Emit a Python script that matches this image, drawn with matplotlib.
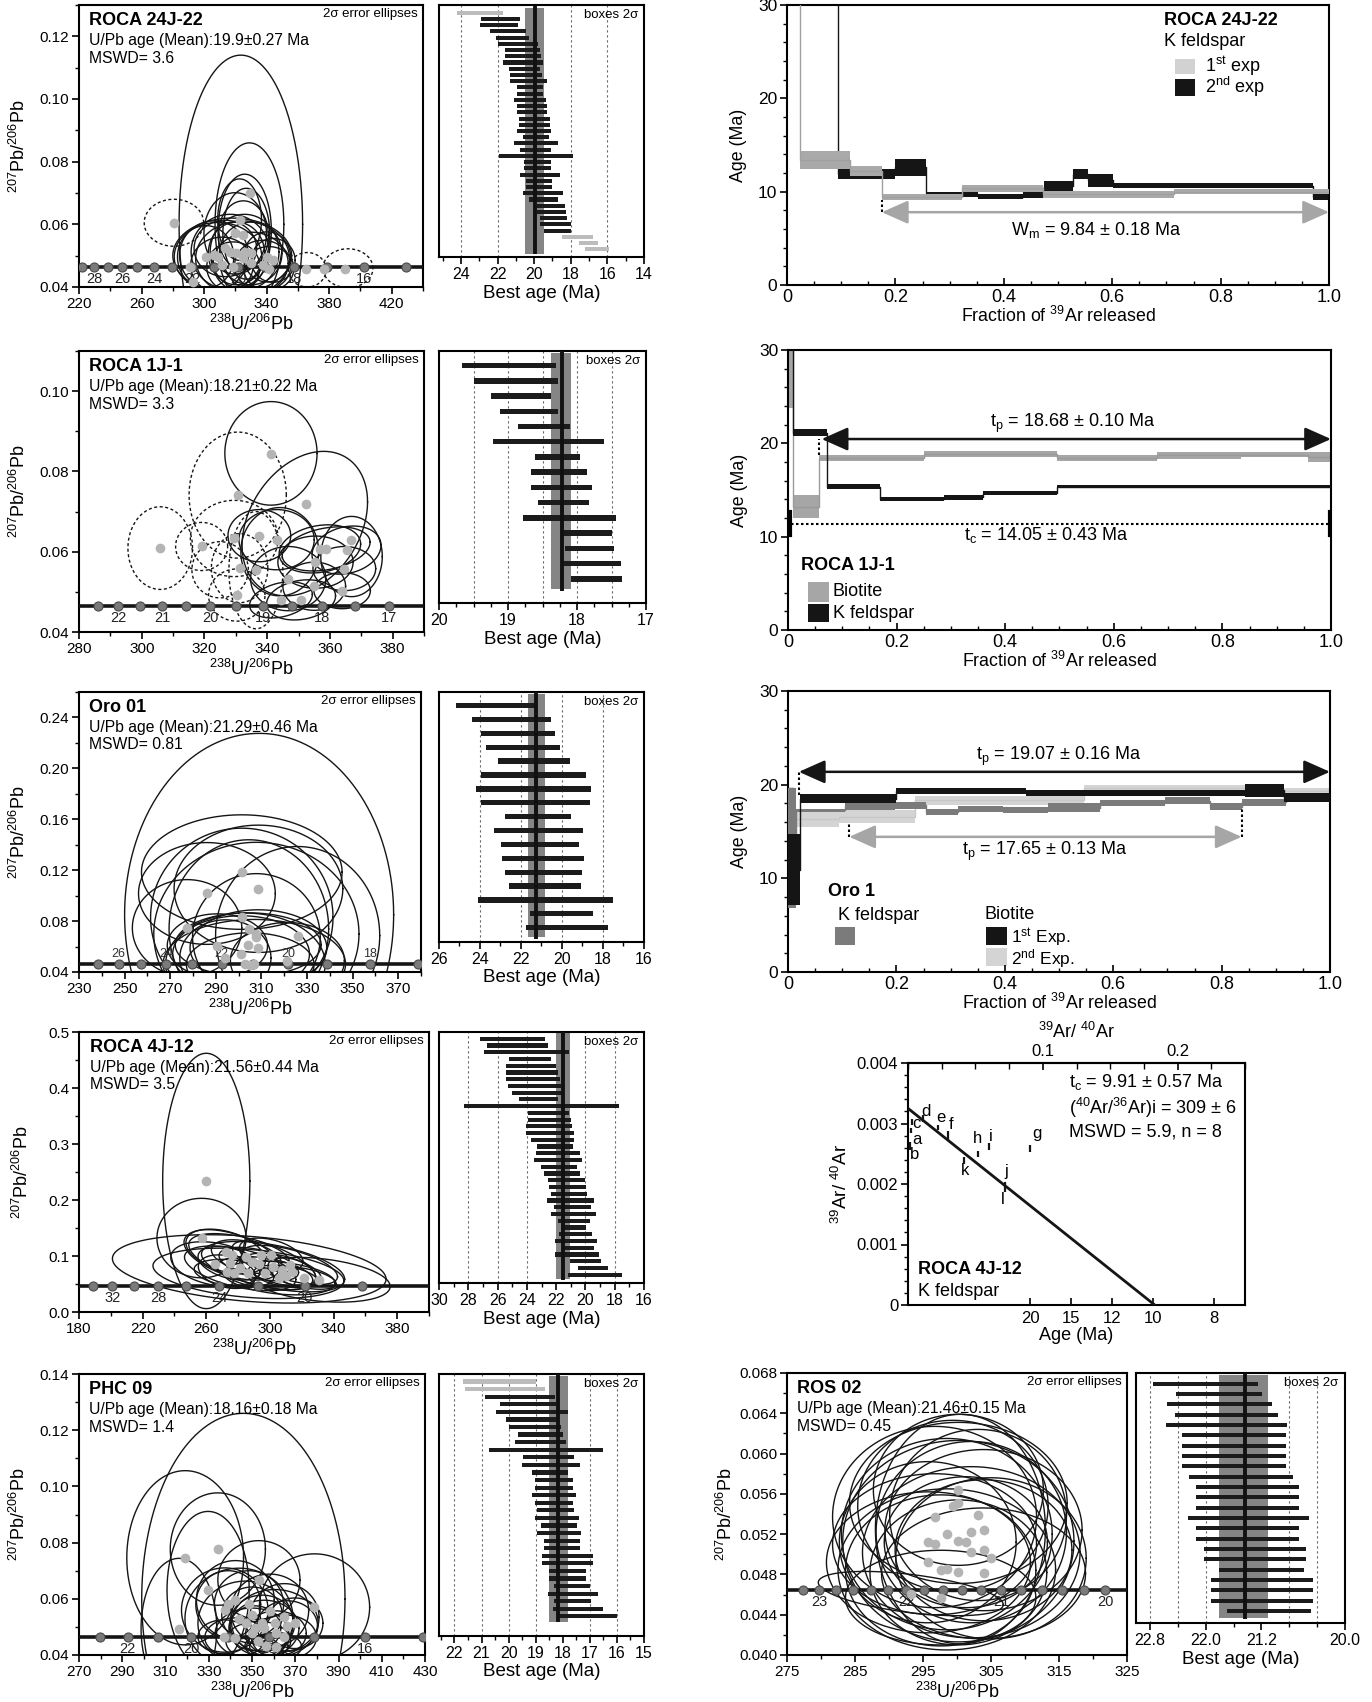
import numpy as np
import matplotlib
matplotlib.use("Agg")
import matplotlib.pyplot as plt
from matplotlib.patches import Rectangle
from matplotlib.ticker import MultipleLocator, FixedLocator, FuncFormatter

plt.rcParams['font.family'] = ['Liberation Sans', 'DejaVu Sans']
plt.rcParams['mathtext.default'] = 'regular'
plt.rcParams['axes.linewidth'] = 1.5

# ====================== DATA ======================
# ---- concordia panels: ellipses (cx, cy, half-width, half-height, rho, dashed) ----
r24_ell = [(323.5, 0.060, 39.5, 0.054, 0, 0), (329, 0.060, 22, 0.026, 0, 0), (326, 0.058, 17, 0.018, 0, 0),
           (327, 0.057, 15, 0.0145, 0, 0), (280.7, 0.0605, 19, 0.0075, 0, 1), (366, 0.0455, 12, 0.0055, 0, 1),
           (392, 0.046, 16, 0.0062, 0, 1), (322.7, 0.0615, 14, 0.013, 0, 0), (319.9, 0.0571, 20, 0.013, 0, 0),
           (325.1, 0.0565, 16, 0.011, 0, 0), (301, 0.0496, 18, 0.010, 0, 0), (306.3, 0.0501, 22, 0.011, 0, 0),
           (313.6, 0.0523, 20, 0.009, 0, 0), (316.7, 0.0512, 25, 0.012, 0, 0), (320.7, 0.0507, 18, 0.010, 0, 0),
           (325.9, 0.0512, 22, 0.012, 0, 0), (329.8, 0.0507, 20, 0.010, 0, 0), (340.3, 0.0496, 15, 0.008, 0, 0),
           (344.2, 0.0485, 14, 0.007, 0, 0), (311.4, 0.0469, 20, 0.009, 0, 0), (318.7, 0.0464, 17, 0.008, 0, 0),
           (329.8, 0.0475, 24, 0.010, 0, 0), (337.5, 0.0469, 18, 0.008, 0, 0), (308.9, 0.0496, 28, 0.011, 0, 0),
           (324.6, 0.0491, 30, 0.012, 0, 0), (318, 0.050, 38, 0.012, 0, 0), (341.4, 0.0459, 16, 0.007, 0, 0)]
r24_dot_x = [280.7, 329.3, 322.7, 319.9, 325.1, 301, 306.3, 313.6, 316.7, 320.7, 325.9, 329.8, 340.3, 344.2,
             311.4, 318.7, 329.8, 337.5, 291, 293.1, 341.4, 365, 376.9, 389.9, 308.9, 324.6]
r24_dot_y = [0.0605, 0.0699, 0.0615, 0.0571, 0.0565, 0.0496, 0.0501, 0.0523, 0.0512, 0.0507, 0.0512, 0.0507,
             0.0496, 0.0485, 0.0469, 0.0464, 0.0475, 0.0469, 0.0464, 0.0416, 0.0459, 0.0459, 0.0459, 0.0459,
             0.0496, 0.0491]
r24_conc_ages = [29, 28, 27, 26, 25, 24, 23, 22, 21, 20, 19, 18, 17, 16, 15]
r24_conc_labels = [28, 26, 24, 22, 20, 18, 16]

r1j_ell = [(341.2, 0.0845, 14.7, 0.0129, 0, 0), (352, 0.067, 20, 0.018, 0.3, 0), (344, 0.060, 12.4, 0.011, 0, 0),
           (366.9, 0.0588, 9.8, 0.010, 0, 0), (356.8, 0.0607, 13, 0.006, 0.2, 0), (358.8, 0.0607, 14, 0.0055, 0.3, 0),
           (365.3, 0.0604, 11, 0.006, 0.2, 0), (355.4, 0.0574, 12, 0.0065, 0, 0), (364.6, 0.0558, 10, 0.0055, 0, 0),
           (346.7, 0.0533, 12, 0.008, 0, 0), (355.0, 0.0514, 10, 0.006, 0, 0), (363.9, 0.0503, 9, 0.0045, 0, 0),
           (344.4, 0.0480, 10, 0.0045, 0.3, 0), (350.8, 0.0480, 11, 0.005, 0.2, 0), (337.5, 0.0640, 10, 0.0065, 0, 0),
           (343, 0.063, 12, 0.0075, 0, 0),
           (305.9, 0.0609, 10.3, 0.0103, 0, 1), (319.1, 0.0613, 8.3, 0.006, 0, 1), (330.6, 0.0741, 15.5, 0.0157, 0, 1),
           (329.5, 0.0633, 14, 0.0095, 0, 1), (331.2, 0.0559, 9, 0.0086, 0, 1), (330.3, 0.0492, 9, 0.0065, 0, 1),
           (336.4, 0.0554, 8.6, 0.0146, 0, 1), (325, 0.0555, 9, 0.007, 0, 1)]
r1j_dot_x = [341.2, 330.6, 352.4, 305.9, 319.1, 329.5, 337.5, 343.0, 366.7, 356.8, 358.8, 365.3, 331.2, 336.4,
             355.4, 364.6, 346.7, 355.0, 363.9, 330.3, 344.4, 350.8]
r1j_dot_y = [0.0843, 0.0741, 0.0720, 0.0609, 0.0613, 0.0633, 0.0640, 0.0630, 0.0630, 0.0607, 0.0607, 0.0604,
             0.0559, 0.0554, 0.0574, 0.0558, 0.0533, 0.0514, 0.0503, 0.0492, 0.0480, 0.0480]
r1j_conc_ages = [22.5, 22, 21.5, 21, 20.5, 20, 19.5, 19, 18.5, 18, 17.5, 17]
r1j_conc_labels = [22, 21, 20, 19, 18, 17]

oro_ell = [(309, 0.085, 59, 0.1425, 0, 0), (301.4, 0.1185, 44, 0.045, 0, 0), (308.7, 0.1054, 37, 0.05, 0, 0),
           (286.1, 0.1017, 30, 0.04, 0, 0), (277.4, 0.0746, 24, 0.038, 0, 0), (301.4, 0.083, 40, 0.07, 0, 0),
           (304.5, 0.0739, 35, 0.07, 0, 0), (307.8, 0.0699, 45, 0.072, 0, 0), (307.8, 0.0673, 28, 0.05, 0, 0),
           (325.9, 0.0686, 36, 0.07, 0, 0), (308.7, 0.0589, 30, 0.03, 0, 0), (304.2, 0.0615, 32, 0.025, 0, 0),
           (290.7, 0.0607, 22, 0.025, 0, 0), (301.1, 0.0542, 30, 0.03, 0, 0), (294.2, 0.051, 20, 0.03, 0, 0),
           (321.4, 0.0489, 25, 0.03, 0, 0), (303, 0.0463, 35, 0.04, 0, 0), (305.1, 0.0458, 28, 0.025, 0, 0),
           (306.9, 0.0463, 40, 0.035, 0, 0)]
oro_dot_x = [301.4, 308.7, 286.1, 277.4, 301.4, 304.5, 307.8, 307.8, 325.9, 308.7, 304.2, 290.7, 301.1, 294.2,
             321.4, 303, 305.1, 306.9]
oro_dot_y = [0.1185, 0.1054, 0.1017, 0.0746, 0.083, 0.0739, 0.0699, 0.0673, 0.0686, 0.0589, 0.0615, 0.0607,
             0.0542, 0.051, 0.0489, 0.0463, 0.0458, 0.0463]
oro_conc_ages = [27, 26, 25, 24, 23, 22, 21, 20, 19, 18, 17]
oro_conc_labels = [26, 24, 22, 20, 18]

r4j_ell = [(260, 0.234, 27.4, 0.228, 0, 0), (287, 0.077, 86, 0.061, -0.3, 0), (257, 0.132, 28, 0.071, 0, 0),
           (272.2, 0.108, 25, 0.04, -0.4, 0), (276, 0.102, 30, 0.045, -0.5, 0), (274.8, 0.087, 20, 0.03, -0.4, 0),
           (273, 0.072, 18, 0.03, -0.3, 0), (281.3, 0.078, 35, 0.04, -0.5, 0), (285.2, 0.099, 22, 0.03, -0.4, 0),
           (289, 0.090, 40, 0.05, -0.6, 0), (293, 0.0855, 25, 0.03, -0.5, 0), (296.9, 0.069, 30, 0.03, -0.4, 0),
           (300.8, 0.102, 20, 0.03, -0.4, 0), (302, 0.081, 45, 0.045, -0.5, 0), (307.3, 0.075, 25, 0.03, -0.5, 0),
           (312.5, 0.084, 30, 0.035, -0.6, 0), (309.9, 0.0635, 20, 0.02, -0.4, 0), (313.8, 0.072, 15, 0.025, -0.4, 0),
           (321.6, 0.0606, 20, 0.02, -0.5, 0), (330.6, 0.0576, 45, 0.04, -0.3, 0), (265.7, 0.0855, 28, 0.04, -0.3, 0),
           (277.4, 0.069, 25, 0.025, -0.3, 0), (286.5, 0.069, 60, 0.045, -0.3, 0), (294.3, 0.102, 18, 0.025, -0.5, 0),
           (306, 0.0606, 35, 0.03, -0.3, 0)]
r4j_dot_x = [260, 257, 272.2, 276, 274.8, 273, 281.3, 285.2, 289, 293, 296.9, 300.8, 302, 307.3, 312.5, 309.9,
             313.8, 321.6, 330.6, 265.7, 277.4, 286.5, 294.3, 306]
r4j_dot_y = [0.234, 0.132, 0.108, 0.102, 0.087, 0.072, 0.078, 0.099, 0.090, 0.0855, 0.069, 0.102, 0.081, 0.075,
             0.084, 0.0635, 0.072, 0.0606, 0.0576, 0.0855, 0.069, 0.069, 0.102, 0.0606]
r4j_conc_ages = [34, 32, 30, 28, 26, 24, 22, 20, 18]
r4j_conc_labels = [32, 28, 24, 20]

phc_ell = [(346, 0.060, 47, 0.066, 0, 0), (319.1, 0.0746, 27, 0.031, 0, 0), (334.2, 0.0777, 22, 0.020, 0, 0),
           (329.7, 0.0631, 19, 0.028, 0, 0), (353.2, 0.0667, 19, 0.014, 0, 0), (378.9, 0.057, 25.5, 0.019, 0, 0),
           (316.2, 0.0494, 17.5, 0.025, 0, 0), (339, 0.058, 15, 0.012, 0, 0), (342.3, 0.0596, 18, 0.014, 0, 0),
           (348.6, 0.058, 16, 0.012, 0, 0), (337.4, 0.056, 20, 0.015, 0, 0), (350, 0.0542, 14, 0.01, 0, 0),
           (358.2, 0.0558, 18, 0.013, 0, 0), (365, 0.0534, 16, 0.012, 0, 0), (354.8, 0.0513, 15, 0.01, 0, 0),
           (360.6, 0.0513, 20, 0.012, 0, 0), (366.3, 0.0503, 14, 0.009, 0, 0), (369.8, 0.0513, 13, 0.009, 0, 0),
           (351.3, 0.0495, 12, 0.008, 0, 0), (355.7, 0.0495, 16, 0.01, 0, 0), (361.1, 0.0477, 14, 0.008, 0, 0),
           (350, 0.0477, 17, 0.009, 0, 0), (337, 0.0465, 12, 0.006, 0, 0), (342.2, 0.0462, 14, 0.007, 0, 0),
           (352.9, 0.045, 15, 0.007, 0, 0), (356.7, 0.0432, 10, 0.004, 0, 0), (360.9, 0.043, 12, 0.005, 0, 0),
           (364.8, 0.0463, 15, 0.008, 0, 0), (347, 0.0513, 22, 0.015, 0, 0), (344, 0.0529, 25, 0.018, 0, 0)]
phc_dot_x = [319.1, 334.2, 353.2, 329.7, 339, 342.3, 348.6, 337.4, 378.9, 316.2, 350, 358.2, 365, 354.8, 360.6,
             366.3, 369.8, 351.3, 355.7, 361.1, 350, 337, 342.2, 352.9, 356.7, 360.9, 364.8, 347, 344]
phc_dot_y = [0.0746, 0.0777, 0.0667, 0.0631, 0.058, 0.0596, 0.058, 0.056, 0.057, 0.0494, 0.0542, 0.0558, 0.0534,
             0.0513, 0.0513, 0.0503, 0.0513, 0.0495, 0.0495, 0.0477, 0.0477, 0.0465, 0.0462, 0.045, 0.0432, 0.043,
             0.0463, 0.0513, 0.0529]
phc_conc_ages = [23, 22, 21, 20, 19, 18, 17, 16, 15]
phc_conc_labels = [22, 20, 18, 16]

ros_ell = [(300.2, 0.0564, 12.5, 0.0075, 0, 0), (299.4, 0.0548, 14, 0.0085, 0, 0), (300.2, 0.0551, 16, 0.0080, 0, 0),
           (296.7, 0.0537, 15, 0.0090, 0, 0), (303.1, 0.0539, 13, 0.0085, 0, 0), (298.5, 0.0520, 15.5, 0.0095, 0, 0),
           (302.1, 0.0522, 14, 0.0090, 0, 0), (303.9, 0.0524, 14.5, 0.0080, 0, 0), (295.7, 0.0512, 13, 0.0080, 0, 0),
           (296.7, 0.0510, 15, 0.0070, 0, 0), (300.2, 0.0513, 17, 0.0100, 0, 0), (301.3, 0.0512, 12, 0.0065, 0, 0),
           (302.1, 0.0502, 16, 0.0085, 0, 0), (303.9, 0.0504, 13, 0.0070, 0, 0), (305.0, 0.0496, 14, 0.0080, 0, 0),
           (295.8, 0.0492, 15, 0.0070, 0, 0), (297.6, 0.0484, 14, 0.0075, 0, 0), (298.5, 0.0485, 16, 0.0080, 0, 0),
           (300.2, 0.0482, 13, 0.0072, 0, 0), (303.9, 0.0481, 15, 0.0065, 0, 0), (293.2, 0.0461, 13.6, 0.0022, -0.5, 0),
           (297.6, 0.0457, 14, 0.0047, 0, 0), (300.5, 0.0525, 12.5, 0.0114, 0, 0)]
ros_dot_x = [300.2, 299.4, 300.2, 296.7, 303.1, 298.5, 302.1, 303.9, 295.7, 296.7, 300.2, 301.3, 302.1, 303.9,
             305.0, 295.8, 297.6, 298.5, 300.2, 303.9, 293.2, 297.6]
ros_dot_y = [0.0564, 0.0548, 0.0551, 0.0537, 0.0539, 0.0520, 0.0522, 0.0524, 0.0512, 0.0510, 0.0513, 0.0512,
             0.0502, 0.0504, 0.0496, 0.0492, 0.0484, 0.0485, 0.0482, 0.0481, 0.0461, 0.0457]
ros_conc_ages = [23.2, 23.0, 22.8, 22.6, 22.4, 22.2, 22.0, 21.8, 21.6, 21.4, 21.2, 21.0, 20.8, 20.6, 20.4, 20.2, 20.0]
ros_conc_labels = [23, 22, 21, 20]

# ---- best-age box panels (older end, younger end, colour k=black g=grey) ----
r24_old = [24.2, 22.9, 22.97, 22.4, 22.1, 22.0, 21.6, 21.6, 21.73, 21.35, 21.3, 21.3, 20.94, 20.94, 21.1, 20.94,
           20.94, 20.85, 20.85, 20.94, 20.6, 21.1, 20.8, 21.9, 20.56, 20.56, 20.8, 20.45, 20.45, 20.6, 20.3, 19.84,
           19.84, 19.66, 19.66, 19.48, 18.47, 17.57, 17.2]
r24_young = [21.7, 20.8, 20.9, 20.45, 20.27, 19.8, 19.66, 19.6, 19.5, 19.66, 19.55, 19.3, 19.5, 19.5, 19.37, 19.28,
             19.3, 19.15, 19.15, 19.06, 19.2, 18.7, 19.1, 17.9, 19.1, 19.1, 18.6, 19.0, 19.0, 18.4, 18.7, 18.3,
             18.25, 18.2, 17.98, 18.0, 16.8, 16.5, 15.9]
r24_col = ['g'] + ['k'] * 35 + ['g'] * 3

r1j_old = [19.66, 19.49, 19.25, 19.11, 18.86, 19.22, 18.61, 18.67, 18.67, 18.57, 18.78, 18.21, 18.17, 18.2, 18.09]
r1j_young = [18.31, 18.28, 18.38, 18.28, 18.10, 17.61, 17.96, 17.86, 17.78, 17.83, 17.43, 17.49, 17.47, 17.36, 17.35]
r1j_col = ['k'] * 15

oro_old = [25.15, 24.38, 23.94, 23.7, 23.13, 23.94, 24.18, 23.94, 22.79, 23.3, 22.97, 22.93, 22.77, 22.6, 24.08,
           21.56, 21.76]
oro_young = [21.25, 20.55, 20.34, 20.1, 19.6, 18.83, 18.59, 18.63, 19.54, 18.99, 19.19, 18.93, 19.01, 19.05, 17.52,
             18.48, 17.78]
oro_col = ['k'] * 17

r4j_old = [27.2, 26.73, 26.9, 25.23, 25.4, 25.4, 25.45, 25.3, 25.03, 24.52, 28.3, 23.9, 23.9, 24.03, 24.03, 23.75,
           23.32, 23.4, 23.52, 23.04, 22.84, 22.53, 22.47, 22.33, 22.61, 22.13, 22.33, 21.9, 21.68, 21.82, 22.1,
           21.48, 22.05, 21.05, 20.48, 21.19]
r4j_young = [22.76, 22.56, 21.14, 22.33, 21.99, 21.9, 21.76, 21.7, 21.62, 21.9, 17.7, 21.1, 20.97, 20.9, 20.77,
             20.77, 20.85, 20.4, 20.26, 20.57, 20.34, 20.06, 19.97, 19.91, 19.4, 19.63, 19.29, 19.72, 19.97, 19.57,
             19.2, 19.4, 19.06, 18.92, 18.49, 17.5]
r4j_col = ['k'] * 36

phc_old = [21.68, 21.6, 20.88, 20.3, 20.47, 20.09, 19.99, 19.66, 19.78, 20.73, 19.47, 19.5, 19.12, 19.01, 19.01,
           19.15, 19.01, 18.94, 19.04, 18.81, 18.94, 18.71, 18.71, 18.78, 18.78, 18.51, 18.51, 18.31, 18.55, 18.31,
           18.36, 18.13]
phc_young = [18.97, 18.66, 18.28, 18.25, 17.79, 18.2, 18.05, 18.0, 17.87, 16.52, 17.59, 17.36, 17.79, 17.64, 17.64,
             17.51, 17.64, 17.59, 17.41, 17.47, 17.31, 17.36, 17.36, 16.9, 16.9, 17.16, 17.16, 16.98, 16.7, 16.95,
             16.52, 15.98]
phc_col = ['g', 'g'] + ['k'] * 30

ros_old = [22.75, 22.42, 22.55, 22.44, 22.57, 22.34, 22.34, 22.34, 22.34, 22.24, 22.14, 22.14, 22.14, 22.26, 22.14,
           22.14, 22.03, 22.03, 21.81, 21.93, 21.93, 21.93, 21.7]
ros_young = [21.25, 21.19, 21.05, 20.96, 20.83, 20.85, 20.85, 20.85, 20.85, 20.75, 20.66, 20.66, 20.66, 20.52, 20.66,
             20.66, 20.56, 20.56, 20.59, 20.46, 20.46, 20.46, 20.49]
ros_col = ['k'] * 23

# ---- Ar/Ar spectra: cumulative 39Ar fraction bounds, step ages, 1-side errors ----
a1_exp1_f = [0, 0.0238, 0.116, 0.175, 0.322, 0.472, 0.714, 1.0]
a1_exp1_age = [45, 13.4, 12.2, 9.4, 10.35, 9.7, 10.0]
a1_exp1_err = [2, 0.95, 0.5, 0.33, 0.36, 0.33, 0.27]
a1_exp2_f = [0, 0.094, 0.2, 0.257, 0.318, 0.353, 0.436, 0.474, 0.528, 0.555, 0.601, 0.97, 1.0]
a1_exp2_age = [45, 11.9, 12.6, 9.86, 9.72, 9.45, 9.67, 10.58, 11.9, 11.2, 10.66, 9.4]
a1_exp2_err = [2, 0.55, 0.9, 0.15, 0.25, 0.27, 0.3, 0.58, 0.58, 0.7, 0.22, 0.33]

a2_bio_f = [0, 0.009, 0.058, 0.25, 0.495, 0.68, 0.835, 0.958, 1.0]
a2_bio_age = [30, 13.2, 18.4, 18.87, 18.4, 18.7, 18.8, 18.57]
a2_bio_err = [6.2, 1.25, 0.3, 0.3, 0.3, 0.33, 0.3, 0.53]
a2_kf_f = [0, 0.009, 0.071, 0.169, 0.288, 0.36, 0.495, 1.0]
a2_kf_age = [45, 21.15, 15.35, 14.05, 14.2, 14.68, 15.36]
a2_kf_err = [2, 0.37, 0.25, 0.23, 0.27, 0.22, 0.18]

a3_kf_f = [0, 0.015, 0.105, 0.197, 0.254, 0.314, 0.396, 0.48, 0.576, 0.695, 0.779, 0.837, 0.919]
a3_kf_age = [13.2, 17.25, 17.67, 17.8, 17.13, 17.42, 17.3, 17.55, 18.05, 18.3, 17.65, 18.1]
a3_kf_err = [6.4, 0.15, 0.33, 0.35, 0.32, 0.32, 0.32, 0.45, 0.3, 0.4, 0.35, 0.4]
a3_b1_f = [0, 0.022, 0.2, 0.44, 0.844, 0.916, 1.0]
a3_b1_age = [10.94, 18.5, 19.3, 19.1, 19.4, 18.58]
a3_b1_err = [3.74, 0.5, 0.3, 0.3, 0.7, 0.48]
a3_b2_f = [0, 0.0105, 0.095, 0.234, 0.546, 0.844, 1.0]
a3_b2_age = [13.3, 16.3, 16.6, 18.35, 19.62, 19.36]
a3_b2_err = [6.5, 0.8, 0.65, 0.48, 0.33, 0.3]

# ---- inverse isochron (ROCA 4J-12) ----
iso_x = [0.0022, 0.0012, 0.0031, 0.0108, 0.0223, 0.0294, 0.0522, 0.0602, 0.0902, 0.0417, 0.0723]
iso_ylo = [0.00284, 0.00257, 0.00297, 0.00303, 0.00289, 0.00272, 0.00244, 0.00257, 0.00253, 0.00233, 0.00186]
iso_yhi = [0.00292, 0.00269, 0.00308, 0.00314, 0.00298, 0.00287, 0.00254, 0.00268, 0.00265, 0.00244, 0.00203]
iso_lab = ['a', 'b', 'c', 'd', 'e', 'f', 'h', 'i', 'g', 'k', 'j', 'l']
iso_lab_x = [0.0064, 0.0048, 0.0064, 0.0136, 0.0244, 0.0321, 0.0516, 0.0615, 0.0958, 0.0423, 0.0726, 0.0705]
iso_lab_y = [0.00274, 0.00249, 0.003, 0.0032, 0.0031, 0.00298, 0.00276, 0.00279, 0.00283, 0.00222, 0.0022, 0.00175]
iso_y0 = 0.00325
iso_tc = 9.91
iso_k = 1.814
iso_age_ticks = [20, 15, 12, 10, 8]
iso_ratio_ticks = [0.1, 0.2]

# ====================== FIGURE ======================
W, H = 1372, 1702
fig = plt.figure(figsize=(W / 100, H / 100), dpi=100)


def add_ax(l, t, r, b):
    return fig.add_axes([l / W, 1 - b / H, (r - l) / W, (b - t) / H])


def conc_x(age):
    return 1.0 / (np.exp(1.55125e-4 * np.asarray(age, dtype=float)) - 1.0)


T = np.linspace(0, 2 * np.pi, 300)


def concordia_panel(ax, ell, dx, dy, conc_y, ages, labels, xlim, ylim, xmaj, xmin, ymaj, ymin, yfmt,
                    title, mean, mswd, lab_above=False, lab_fs=10.5, ylab_x=-0.145):
    for (cx, cy, hx, hy, r, d) in ell:
        xs = cx + hx * np.cos(T)
        ys = cy + hy * (r * np.cos(T) + np.sqrt(1 - r * r) * np.sin(T))
        ax.plot(xs, ys, color='#151515', lw=1.0, ls=(0, (2.2, 1.8)) if d else '-', zorder=2)
    ax.axhline(conc_y, color='#151515', lw=2.6, zorder=3)
    cxs = conc_x(ages)
    ax.plot(cxs, np.full(len(cxs), conc_y), 'o', ms=6.5, mfc='#7a7a7a', mec='#4a4a4a', mew=0.8, zorder=4)
    yr = ylim[1] - ylim[0]
    for a in labels:
        if lab_above:
            ax.text(conc_x(a), conc_y + 0.012 * yr, str(a), ha='center', va='bottom', fontsize=lab_fs,
                    color='#333333', zorder=4)
        else:
            ax.text(conc_x(a), conc_y - 0.018 * yr, str(a), ha='center', va='top', fontsize=lab_fs,
                    color='#222222', zorder=4)
    ax.plot(dx, dy, 'o', ms=7, color='#b4b4b4', mec='none', zorder=5)
    ax.set_xlim(xlim)
    ax.set_ylim(ylim)
    ax.xaxis.set_major_locator(FixedLocator(np.arange(xlim[0], xlim[1] + 1e-9, xmaj)))
    ax.xaxis.set_minor_locator(FixedLocator(np.arange(xlim[0], xlim[1] + 1e-9, xmin)))
    ax.yaxis.set_major_locator(MultipleLocator(ymaj))
    ax.yaxis.set_minor_locator(MultipleLocator(ymin))
    ax.yaxis.set_major_formatter(FuncFormatter(lambda v, p: yfmt % v))
    ax.xaxis.set_major_formatter(FuncFormatter(lambda v, p: '%d' % round(v)))
    ax.tick_params(which='major', direction='out', length=5, width=1.2, labelsize=11, pad=2)
    ax.tick_params(which='minor', direction='out', length=3, width=1.0)
    ax.text(0.03, 0.975, title, transform=ax.transAxes, fontsize=13, fontweight='bold', va='top')
    ax.text(0.03, 0.9, 'U/Pb age (Mean):' + mean, transform=ax.transAxes, fontsize=11.3, va='top')
    ax.text(0.03, 0.838, 'MSWD= ' + mswd, transform=ax.transAxes, fontsize=11.3, va='top')
    ax.text(0.985, 0.99, '2σ error ellipses', transform=ax.transAxes, fontsize=9.5, va='top', ha='right')
    ax.set_xlabel('$^{238}$U/$^{206}$Pb', fontsize=13, labelpad=2)
    ax.set_ylabel('$^{207}$Pb/$^{206}$Pb', fontsize=13)
    ax.yaxis.set_label_coords(ylab_x, 0.5)


def box_panel(ax, old, young, cols, band, mean, grid, xlim, majors, minor, bar_h, top_m, bot_m, fmt):
    n = len(old)
    rows = np.arange(n)
    cmap = {'k': '#1b1b1b', 'g': '#bcbcbc'}
    ax.barh(rows, np.array(old) - np.array(young), left=young, height=bar_h,
            color=[cmap[c] for c in cols], zorder=3)
    ax.fill_betweenx([-0.8, n - 0.3], band[0], band[1], color='#858585', lw=0, zorder=2)
    ax.plot([mean, mean], [-1.1, n - 0.2], color='#111111', lw=2.8, zorder=4, solid_capstyle='butt')
    for g in grid:
        ax.axvline(g, color='#666666', lw=0.8, ls=(0, (2, 2.5)), zorder=1)
    ax.set_xlim(xlim)
    ax.set_ylim(n - 1 + bot_m, -top_m)
    ax.set_yticks([])
    ax.xaxis.set_major_locator(FixedLocator(majors))
    ax.xaxis.set_minor_locator(MultipleLocator(minor))
    ax.xaxis.set_major_formatter(FuncFormatter(lambda v, p: fmt % v))
    ax.tick_params(axis='x', which='major', direction='out', length=5, width=1.2, labelsize=11.5, pad=2)
    ax.tick_params(axis='x', which='minor', direction='out', length=3, width=1.0)
    ax.text(0.97, 0.985, 'boxes 2σ', transform=ax.transAxes, ha='right', va='top', fontsize=9.5)
    ax.set_xlabel('Best age (Ma)', fontsize=13.5, labelpad=2)


def spectrum(ax, f, age, err, color, edge, z):
    for i in range(len(age)):
        ax.add_patch(Rectangle((f[i], age[i] - err[i]), f[i + 1] - f[i], 2 * err[i],
                               facecolor=color, edgecolor='none', zorder=z))
    ax.plot(f, list(age) + [age[-1]], drawstyle='steps-post', color=edge, lw=1.0, zorder=z)


def arar_axes(ax):
    ax.set_xlim(0, 1)
    ax.set_ylim(0, 30)
    ax.xaxis.set_major_locator(MultipleLocator(0.2))
    ax.xaxis.set_minor_locator(MultipleLocator(0.05))
    ax.yaxis.set_major_locator(MultipleLocator(10))
    ax.yaxis.set_minor_locator(MultipleLocator(2))
    ax.xaxis.set_major_formatter(FuncFormatter(lambda v, p: '0' if abs(v) < 1e-9 else '%.1f' % v))
    ax.tick_params(axis='x', which='major', direction='in', length=5, width=1.2, labelsize=13, pad=3)
    ax.tick_params(axis='x', which='minor', direction='in', length=3, width=1.0)
    ax.tick_params(axis='y', which='major', direction='out', length=5, width=1.2, labelsize=12.5, pad=2)
    ax.tick_params(axis='y', which='minor', direction='out', length=3, width=1.0)
    ax.set_xlabel('Fraction of $^{39}$Ar released', fontsize=12.8, labelpad=0)
    ax.set_ylabel('Age (Ma)', fontsize=12.8, labelpad=8)


def darrow(ax, x0, x1, y, color):
    ax.annotate('', xy=(x1, y), xytext=(x0, y),
                arrowprops=dict(arrowstyle='<|-|>,head_length=0.9,head_width=0.4', color=color, lw=1.8,
                                shrinkA=0, shrinkB=0, mutation_scale=18), zorder=6)


FS = 13  # Ar/Ar annotation size

# ---------------- Row 1 ----------------
ax = add_ax(79, 5, 423, 287)
concordia_panel(ax, r24_ell, r24_dot_x, r24_dot_y, 0.0464, r24_conc_ages, r24_conc_labels, (220, 440),
                (0.04, 0.13), 40, 20, 0.02, 0.01, '%.2f', 'ROCA 24J-22', '19.9±0.27 Ma', '3.6')
ax = add_ax(439, 5, 644, 257)
box_panel(ax, r24_old, r24_young, r24_col, (20.5, 19.45), 19.95, [24, 22, 18, 16], (25.2, 14),
          [24, 22, 20, 18, 16, 14], 1, 0.65, 1.24, 1.24, '%d')
ax = add_ax(787, 5, 1329, 285)
arar_axes(ax)
spectrum(ax, a1_exp2_f, a1_exp2_age, a1_exp2_err, '#151515', '#151515', 2)
spectrum(ax, a1_exp1_f, a1_exp1_age, a1_exp1_err, '#a9a9a9', '#a0a0a0', 3)
ax.plot([0.175, 0.175], [7.8, 9.1], color='k', lw=1.5, ls=(0, (1.2, 1.2)), zorder=5)
darrow(ax, 0.175, 1.0, 7.8, '#a6a6a6')
ax.text(0.57, 5.9, '$W_m$ = 9.84 ± 0.18 Ma', ha='center', va='center', fontsize=FS)
ax.text(0.695, 28.3, 'ROCA 24J-22', fontsize=FS, fontweight='bold', va='center')
ax.text(0.695, 26.1, 'K feldspar', fontsize=FS, va='center')
ax.add_patch(Rectangle((0.715, 22.6), 0.038, 1.6, facecolor='#d2d2d2', edgecolor='none'))
ax.text(0.772, 23.4, '1$^{st}$ exp', fontsize=FS, va='center')
ax.add_patch(Rectangle((0.715, 20.3), 0.038, 1.8, facecolor='#151515', edgecolor='none'))
ax.text(0.772, 21.2, '2$^{nd}$ exp', fontsize=FS, va='center')

# ---------------- Row 2 ----------------
ax = add_ax(79, 351, 424, 632)
concordia_panel(ax, r1j_ell, r1j_dot_x, r1j_dot_y, 0.0466, r1j_conc_ages, r1j_conc_labels, (280, 390),
                (0.04, 0.11), 20, 10, 0.02, 0.01, '%.2f', 'ROCA 1J-1', '18.21±0.22 Ma', '3.3')
ax = add_ax(439, 351, 646, 603)
box_panel(ax, r1j_old, r1j_young, r1j_col, (18.37, 18.08), 18.22, [19.5, 19, 18.5, 18, 17.5], (20, 17),
          [20, 19, 18, 17], 0.25, 0.36, 0.96, 1.59, '%d')
ax = add_ax(788, 350, 1331, 630)
arar_axes(ax)
spectrum(ax, a2_bio_f, a2_bio_age, a2_bio_err, '#a6a6a6', '#9a9a9a', 2)
spectrum(ax, a2_kf_f, a2_kf_age, a2_kf_err, '#151515', '#151515', 3)
ax.plot([0.058, 0.058], [18.7, 20.46], color='k', lw=1.5, ls=(0, (1.2, 1.2)), zorder=5)
darrow(ax, 0.062, 1.0, 20.46, '#151515')
ax.text(0.525, 22.1, '$t_p$ = 18.68 ± 0.10 Ma', ha='center', va='center', fontsize=FS)
ax.plot([0.005, 1.0], [11.36, 11.36], color='k', lw=1.5, ls=(0, (1.2, 1.2)), zorder=5)
ax.plot([0.004, 0.004], [10.2, 12.6], color='k', lw=3, zorder=5)
ax.plot([0.998, 0.998], [10.2, 12.6], color='k', lw=3, zorder=5)
ax.text(0.475, 10.15, '$t_c$ = 14.05 ± 0.43 Ma', ha='center', va='center', fontsize=FS)
ax.text(0.024, 6.96, 'ROCA 1J-1', fontsize=FS, fontweight='bold', va='center')
ax.add_patch(Rectangle((0.037, 3.04), 0.038, 2.14, facecolor='#a6a6a6', edgecolor='none'))
ax.text(0.082, 4.1, 'Biotite', fontsize=FS, va='center')
ax.add_patch(Rectangle((0.037, 0.82), 0.038, 1.93, facecolor='#151515', edgecolor='none'))
ax.text(0.082, 1.79, 'K feldspar', fontsize=FS, va='center')

# ---------------- Row 3 ----------------
ax = add_ax(79, 692, 421, 972)
concordia_panel(ax, oro_ell, oro_dot_x, oro_dot_y, 0.0465, oro_conc_ages, oro_conc_labels, (230, 380),
                (0.04, 0.26), 20, 10, 0.04, 0.02, '%.2f', 'Oro 01', '21.29±0.46 Ma', '0.81',
                lab_above=True, lab_fs=9)
ax = add_ax(439, 692, 644, 942)
box_panel(ax, oro_old, oro_young, oro_col, (21.68, 20.81), 21.25, [24, 22, 20, 18], (26, 16),
          [26, 24, 22, 20, 18, 16], 1, 0.38, 0.98, 1.03, '%d')
ax = add_ax(788, 691, 1330, 972)
arar_axes(ax)
spectrum(ax, a3_b2_f, a3_b2_age, a3_b2_err, '#d4d4d4', '#c8c8c8', 2)
spectrum(ax, a3_kf_f, a3_kf_age, a3_kf_err, '#7b7b7b', '#7b7b7b', 3)
spectrum(ax, a3_b1_f, a3_b1_age, a3_b1_err, '#151515', '#151515', 4)
ax.plot([0.02, 0.02], [18.9, 21.37], color='k', lw=1.5, ls=(0, (1.2, 1.2)), zorder=5)
darrow(ax, 0.02, 1.0, 21.37, '#151515')
ax.text(0.5, 22.98, '$t_p$ = 19.07 ± 0.16 Ma', ha='center', va='center', fontsize=FS)
ax.plot([0.113, 0.113], [14.43, 16.0], color='k', lw=1.5, ls=(0, (1.2, 1.2)), zorder=5)
ax.plot([0.837, 0.837], [14.43, 17.4], color='k', lw=1.5, ls=(0, (1.2, 1.2)), zorder=5)
darrow(ax, 0.113, 0.837, 14.43, '#a6a6a6')
ax.text(0.473, 12.9, '$t_p$ = 17.65 ± 0.13 Ma', ha='center', va='center', fontsize=FS)
ax.text(0.074, 8.55, 'Oro 1', fontsize=FS, fontweight='bold', va='center')
ax.text(0.093, 6.06, 'K feldspar', fontsize=FS, va='center')
ax.add_patch(Rectangle((0.086, 2.85), 0.037, 1.95, facecolor='#7b7b7b', edgecolor='none'))
ax.text(0.362, 6.13, 'Biotite', fontsize=FS, va='center')
ax.add_patch(Rectangle((0.366, 2.85), 0.038, 1.95, facecolor='#151515', edgecolor='none'))
ax.text(0.411, 3.7, '1$^{st}$ Exp.', fontsize=12.5, va='center')
ax.add_patch(Rectangle((0.366, 0.64), 0.038, 1.92, facecolor='#d4d4d4', edgecolor='none'))
ax.text(0.411, 1.4, '2$^{nd}$ Exp.', fontsize=12.5, va='center')

# ---------------- Row 4 ----------------
ax = add_ax(79, 1032, 429, 1312)
concordia_panel(ax, r4j_ell, r4j_dot_x, r4j_dot_y, 0.0457, r4j_conc_ages, r4j_conc_labels, (180, 400),
                (0.0, 0.5), 40, 20, 0.1, 0.05, '%.1f', 'ROCA 4J-12', '21.56±0.44 Ma', '3.5', ylab_x=-0.135)
ax = add_ax(439, 1032, 644, 1283)
box_panel(ax, r4j_old, r4j_young, r4j_col, (21.99, 21.05), 21.56, [28, 26, 24, 20, 18], (30, 16),
          [30, 28, 26, 24, 22, 20, 18, 16], 1, 0.62, 1.0, 1.24, '%d')

ax = add_ax(908, 1063, 1245, 1305)
ax.set_xlim(0, 0.25)
ax.set_ylim(0, 0.004)
ax.plot([0, iso_k / iso_tc], [iso_y0, 0], color='#151515', lw=2.0, zorder=3)
ax.vlines(iso_x, iso_ylo, iso_yhi, color='#151515', lw=1.6, zorder=4)
for lab, lx, ly in zip(iso_lab, iso_lab_x, iso_lab_y):
    ax.text(lx, ly, lab, ha='center', va='center', fontsize=12)
ax.set_xticks([iso_k / a for a in iso_age_ticks])
ax.set_xticklabels([str(a) for a in iso_age_ticks])
ax.tick_params(axis='x', direction='in', length=5, width=1.2, labelsize=12, pad=4)
ax.yaxis.set_major_locator(MultipleLocator(0.001))
ax.yaxis.set_minor_locator(MultipleLocator(0.0002))
ax.yaxis.set_major_formatter(FuncFormatter(lambda v, p: '0' if abs(v) < 1e-12 else '%.3f' % v))
ax.tick_params(axis='y', which='major', direction='out', length=5, width=1.2, labelsize=12, pad=2)
ax.tick_params(axis='y', which='minor', direction='out', length=3, width=1.0)
ax.set_xlabel('Age (Ma)', fontsize=13, labelpad=1)
ax.set_ylabel('$^{39}$Ar/ $^{40}$Ar', fontsize=13.5, labelpad=4)
sec = ax.secondary_xaxis('top')
sec.set_xticks(iso_ratio_ticks)
sec.xaxis.set_minor_locator(MultipleLocator(0.025))
sec.xaxis.set_major_formatter(FuncFormatter(lambda v, p: '%.1f' % v))
sec.tick_params(which='major', direction='in', length=5, width=1.2, labelsize=12, pad=3)
sec.tick_params(which='minor', direction='in', length=4, width=1.0)
sec.set_xlabel('$^{39}$Ar/ $^{40}$Ar', fontsize=13, labelpad=4)
ax.text(0.1196, 0.00369, '$t_c$ = 9.91 ± 0.57 Ma', fontsize=FS, va='center')
ax.text(0.1196, 0.00325, '($^{40}$Ar/$^{36}$Ar)i = 309 ± 6', fontsize=FS, va='center')
ax.text(0.1196, 0.00286, 'MSWD = 5.9, n = 8', fontsize=FS, va='center')
ax.text(0.0077, 0.000583, 'ROCA 4J-12', fontsize=FS, fontweight='bold', va='center')
ax.text(0.0077, 0.000222, 'K feldspar', fontsize=FS, va='center')

# ---------------- Row 5 ----------------
ax = add_ax(79, 1374, 425, 1655)
concordia_panel(ax, phc_ell, phc_dot_x, phc_dot_y, 0.0465, phc_conc_ages, phc_conc_labels, (270, 430),
                (0.04, 0.14), 20, 10, 0.02, 0.01, '%.2f', 'PHC 09', '18.16±0.18 Ma', '1.4')
ax = add_ax(439, 1374, 644, 1636)
box_panel(ax, phc_old, phc_young, phc_col, (18.51, 17.79), 18.16, [22, 21, 20, 19, 17, 16], (22.57, 15),
          [22, 21, 20, 19, 18, 17, 16, 15], 0.5, 0.55, 1.0, 2.6, '%d')
ax = add_ax(787, 1373, 1127, 1655)
concordia_panel(ax, ros_ell, ros_dot_x, ros_dot_y, 0.0465, ros_conc_ages, ros_conc_labels, (275, 325),
                (0.04, 0.068), 10, 5, 0.004, 0.002, '%.3f', 'ROS 02', '21.46±0.15 Ma', '0.45', ylab_x=-0.15)
ax = add_ax(1136, 1373, 1345, 1623)
box_panel(ax, ros_old, ros_young, ros_col, (21.81, 21.1), 21.44, [22.8, 22.4, 22.0, 20.8, 20.4], (23.0, 20.0),
          [22.8, 22.0, 21.2, 20.0], 0.4, 0.4, 1.03, 1.16, '%.1f')

fig.savefig('out.png', dpi=100)
